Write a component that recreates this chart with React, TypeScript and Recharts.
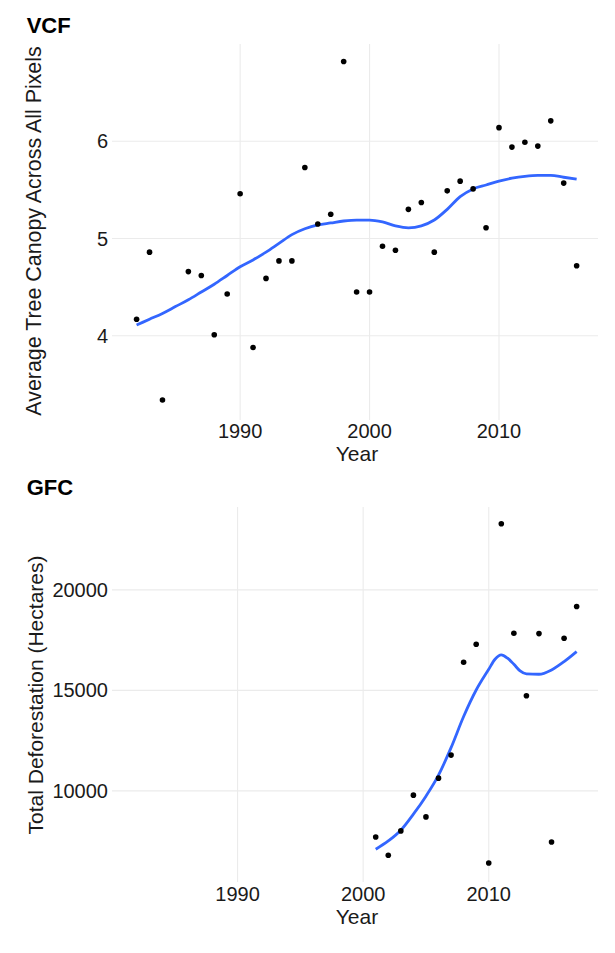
import { ComposedChart, Scatter, Line, XAxis, YAxis, ReferenceLine } from 'recharts'

// VCF: yearly average tree canopy (1985 is missing)
const vcfYears = [
  1982, 1983, 1984, 1986, 1987, 1988, 1989, 1990, 1991, 1992, 1993, 1994, 1995, 1996, 1997, 1998, 1999,
  2000, 2001, 2002, 2003, 2004, 2005, 2006, 2007, 2008, 2009, 2010, 2011, 2012, 2013, 2014, 2015, 2016,
]
const vcfCanopy = [
  4.17, 4.86, 3.34, 4.66, 4.62, 4.01, 4.43, 5.46, 3.88, 4.59, 4.77, 4.77, 5.73, 5.15, 5.25, 6.82, 4.45,
  4.45, 4.92, 4.88, 5.3, 5.37, 4.86, 5.49, 5.59, 5.51, 5.11, 6.14, 5.94, 5.99, 5.95, 6.21, 5.57, 4.72,
]
// smoothed trend
const vcfFitYears = [
  1982, 1983, 1984, 1985, 1986, 1987, 1988, 1989, 1990, 1991, 1992, 1993, 1994, 1995, 1996, 1997, 1998,
  1999, 2000, 2001, 2002, 2003, 2004, 2005, 2006, 2007, 2008, 2009, 2010, 2011, 2012, 2013, 2014, 2015, 2016,
]
const vcfFit = [
  4.11, 4.17, 4.23, 4.3, 4.37, 4.45, 4.53, 4.62, 4.71, 4.78, 4.86, 4.95, 5.04, 5.1, 5.14, 5.16, 5.18,
  5.19, 5.19, 5.17, 5.13, 5.11, 5.13, 5.19, 5.3, 5.43, 5.51, 5.55, 5.59, 5.62, 5.64, 5.65, 5.65, 5.63, 5.61,
]

// GFC: total deforestation in hectares
const gfcYears = [2001, 2002, 2003, 2004, 2005, 2006, 2007, 2008, 2009, 2010, 2011, 2012, 2013, 2014, 2015, 2016, 2017]
const gfcLoss = [
  7708, 6796, 8007, 9786, 8705, 10633, 11779, 16398, 17294, 6413, 23288, 17843, 14733, 17823, 7459, 17593, 19168,
]
const gfcFitYears = [
  2001, 2002, 2003, 2004, 2005, 2006, 2007, 2008, 2009, 2010, 2010.5, 2011, 2011.5, 2012, 2012.5, 2013, 2014,
  2015, 2016, 2017,
]
const gfcFit = [
  7095, 7509, 8042, 8839, 9736, 10782, 12150, 13700, 15017, 16049, 16547, 16761, 16597, 16298, 15964, 15815,
  15800, 16014, 16428, 16926,
]

const yearTicks = [1990, 2000, 2010]
const vcfTicks = [4, 5, 6]
const gfcTicks = [10000, 15000, 20000]

const FONT = '"Liberation Sans", Arial, Helvetica, sans-serif'
const TEXT = '#1a1a1a'
const GRID = '#EBEBEB'

const vcfPoints = vcfYears.map((year, i) => ({ year, v: vcfCanopy[i] }))
const vcfLine = vcfFitYears.map((year, i) => ({ year, fit: vcfFit[i] }))
const gfcPoints = gfcYears.map((year, i) => ({ year, v: gfcLoss[i] }))
const gfcLine = gfcFitYears.map((year, i) => ({ year, fit: gfcFit[i] }))

const Dot = (props: any) => <circle cx={props.cx} cy={props.cy} r={2.8} fill="#000" />

interface PanelProps {
  top: number
  height: number
  marginTop: number
  xDomain: [number, number]
  yDomain: [number, number]
  yTicks: number[]
  points: { year: number; v: number }[]
  line: { year: number; fit: number }[]
  xTickMargin: number
}

function Panel({ top, height, marginTop, xDomain, yDomain, yTicks, points, line, xTickMargin }: PanelProps) {
  const tick = { fontSize: 20, fill: TEXT, fontFamily: FONT }
  return (
    <div style={{ position: 'absolute', left: 0, top }}>
      <ComposedChart width={615} height={height} margin={{ top: marginTop, right: 17, bottom: 0, left: 0 }}>
        <XAxis
          dataKey="year"
          type="number"
          domain={xDomain}
          allowDataOverflow
          ticks={yearTicks}
          axisLine={false}
          tickLine={false}
          tickSize={0}
          tickMargin={xTickMargin}
          height={50}
          tick={tick}
        />
        <YAxis
          type="number"
          domain={yDomain}
          allowDataOverflow
          ticks={yTicks}
          axisLine={false}
          tickLine={false}
          tickSize={0}
          tickMargin={4}
          width={112}
          tick={tick}
        />
        {yearTicks.map((t) => (
          <ReferenceLine key={'x' + t} x={t} stroke={GRID} strokeWidth={1.1} />
        ))}
        {yTicks.map((t) => (
          <ReferenceLine key={'y' + t} y={t} stroke={GRID} strokeWidth={1.1} />
        ))}
        <Line
          data={line}
          dataKey="fit"
          type="monotone"
          stroke="#3366FF"
          strokeWidth={2.8}
          dot={false}
          isAnimationActive={false}
        />
        <Scatter data={points} dataKey="v" shape={Dot} isAnimationActive={false} />
      </ComposedChart>
    </div>
  )
}

const label = (text: string, left: number, top: number, extra: React.CSSProperties = {}) => (
  <div
    style={{
      position: 'absolute',
      left,
      top,
      fontFamily: FONT,
      fontSize: 21,
      lineHeight: 1,
      color: TEXT,
      whiteSpace: 'nowrap',
      ...extra,
    }}
  >
    {text}
  </div>
)

export default function App() {
  return (
    <div style={{ position: 'absolute', left: 0, top: 0, width: 615, height: 953, background: '#fff', fontFamily: FONT }}>
      <Panel
        top={0}
        height={470}
        marginTop={44}
        xDomain={[1980.1, 2017.65]}
        yDomain={[3.134, 7.0]}
        yTicks={vcfTicks}
        points={vcfPoints}
        line={vcfLine}
        xTickMargin={4}
      />
      <Panel
        top={470}
        height={462}
        marginTop={37}
        xDomain={[1980.0, 2018.7]}
        yDomain={[5466, 24121]}
        yTicks={gfcTicks}
        points={gfcPoints}
        line={gfcLine}
        xTickMargin={5}
      />

      {label('VCF', 26.7, 14.7, { fontSize: 22, fontWeight: 'bold', color: '#000' })}
      {label('GFC', 26.7, 477.1, { fontSize: 22, fontWeight: 'bold', color: '#000' })}

      {label('Year', 357, 442.9, { transform: 'translateX(-50%)' })}
      {label('Year', 357, 906.2, { transform: 'translateX(-50%)' })}

      {label('Average Tree Canopy Across All Pixels', 35.2, 231, {
        fontSize: 21.4,
        transform: 'translate(-50%, -50%) rotate(-90deg)',
      })}
      {label('Total Deforestation (Hectares)', 35.2, 695, { transform: 'translate(-50%, -50%) rotate(-90deg)' })}
    </div>
  )
}
